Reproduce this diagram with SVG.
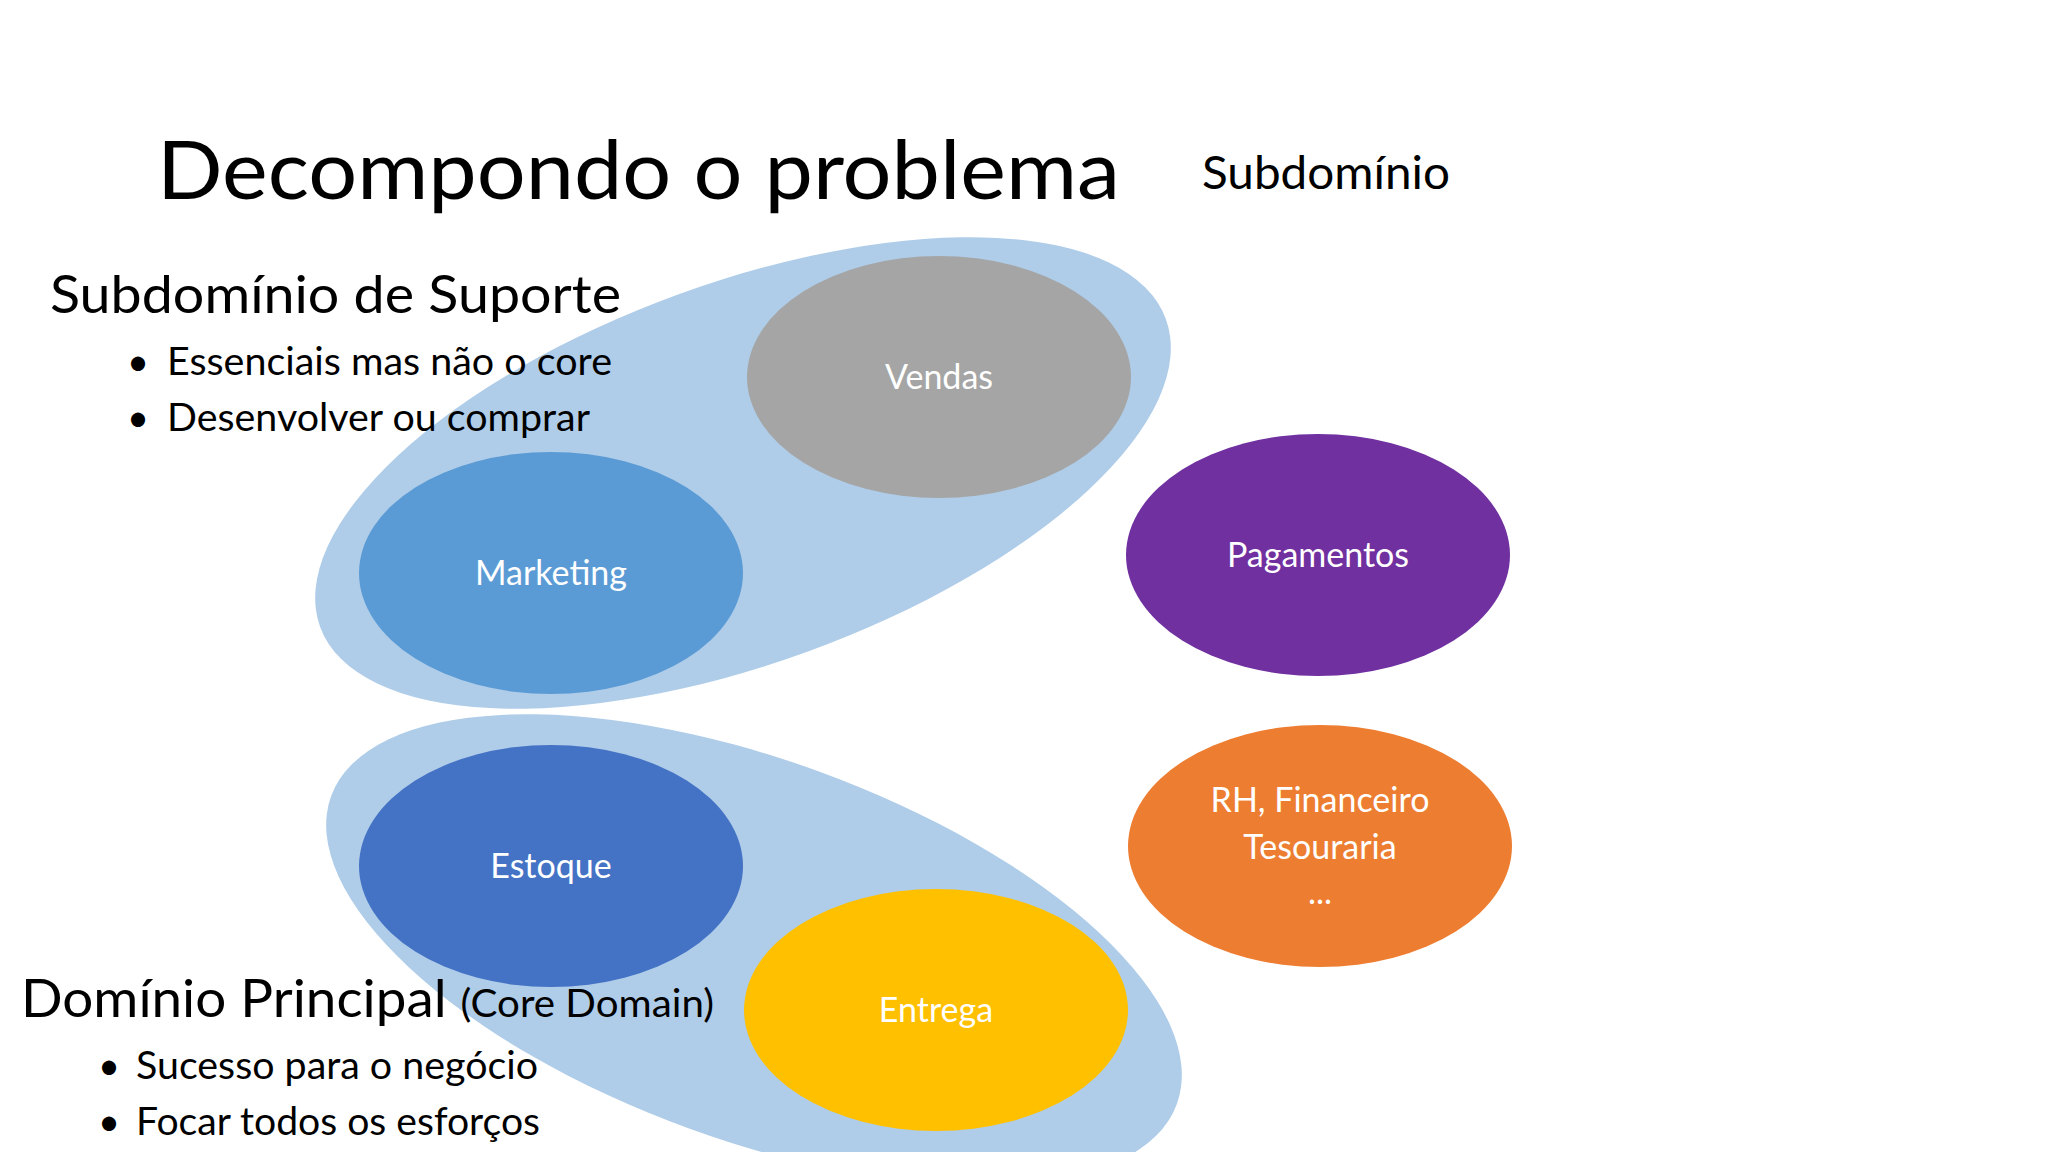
<svg xmlns="http://www.w3.org/2000/svg" width="2048" height="1152" viewBox="0 0 2048 1152">
<style>
text{font-family:Lato,"Open Sans",sans-serif;fill:#000}
.l{fill:#fff;font-size:34px;text-anchor:middle}
.big{fill:#AFCDE9}
</style>
<rect width="2048" height="1152" fill="#fff"/>
<g id="group-suporte"><ellipse class="big" cx="743" cy="473" rx="450" ry="190" transform="rotate(-20 743 473)"/></g>
<g id="group-core"><ellipse class="big" cx="754" cy="950" rx="450" ry="190" transform="rotate(20 754 950)"/></g>
<g id="vendas"><ellipse cx="939" cy="377" rx="192" ry="121" fill="#A5A5A5"/><text class="l" x="939" y="389">Vendas</text></g>
<g id="marketing"><ellipse cx="551" cy="573" rx="192" ry="121" fill="#5B9BD5"/><text class="l" x="551" y="585">Marketing</text></g>
<g id="pagamentos"><ellipse cx="1318" cy="555" rx="192" ry="121" fill="#7030A0"/><text class="l" x="1318" y="567">Pagamentos</text></g>
<g id="estoque"><ellipse cx="551" cy="866" rx="192" ry="121" fill="#4472C4"/><text class="l" x="551" y="878">Estoque</text></g>
<g id="entrega"><ellipse cx="936" cy="1010" rx="192" ry="121" fill="#FFC000"/><text class="l" x="936" y="1022">Entrega</text></g>
<g id="rh"><ellipse cx="1320" cy="846" rx="192" ry="121" fill="#ED7D31"/><text class="l" x="1320" y="812">RH, Financeiro</text><text class="l" x="1320" y="859">Tesouraria</text><text class="l" x="1320" y="904">...</text></g>
<g id="connectors"></g>
<g id="texts">
<text x="157" y="199" font-size="82" textLength="963" lengthAdjust="spacingAndGlyphs">Decompondo o problema</text>
<text x="1202" y="189" font-size="47" textLength="248" lengthAdjust="spacingAndGlyphs">Subdomínio</text>
<text x="50" y="313" font-size="53" textLength="571" lengthAdjust="spacingAndGlyphs">Subdomínio de Suporte</text>
<text x="127" y="375" font-size="38">•</text><text x="167" y="375" font-size="38" textLength="445" lengthAdjust="spacingAndGlyphs">Essenciais mas não o core</text>
<text x="127" y="431" font-size="38">•</text><text x="167" y="431" font-size="38" textLength="423" lengthAdjust="spacingAndGlyphs">Desenvolver ou comprar</text>
<text x="21" y="1017" font-size="53" textLength="693" lengthAdjust="spacingAndGlyphs">Domínio Principal <tspan font-size="39">(Core Domain)</tspan></text>
<text x="98" y="1079" font-size="38">•</text><text x="136" y="1079" font-size="38" textLength="402" lengthAdjust="spacingAndGlyphs">Sucesso para o negócio</text>
<text x="98" y="1135" font-size="38">•</text><text x="136" y="1135" font-size="38" textLength="404" lengthAdjust="spacingAndGlyphs">Focar todos os esforços</text>
</g>
</svg>
